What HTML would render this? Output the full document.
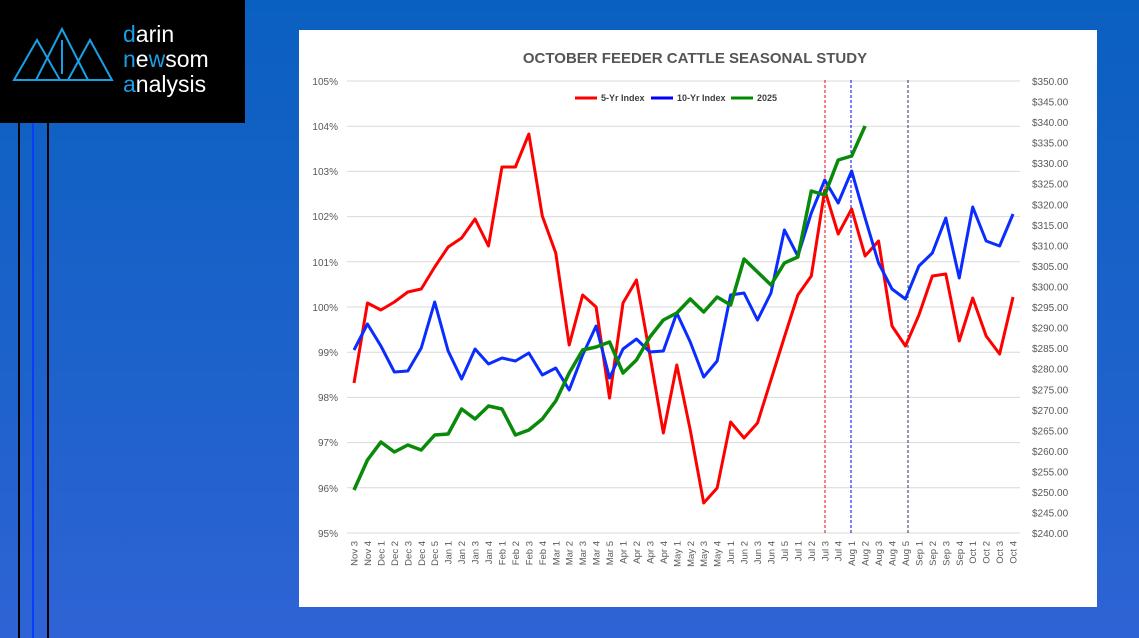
<!DOCTYPE html>
<html><head><style>
body{margin:0;width:1139px;height:638px;overflow:hidden;background:linear-gradient(180deg,#0a60c0 0%,#1e62cc 60%,#2f63d5 100%);font-family:"Liberation Sans",sans-serif;position:relative}
.logo{position:absolute;left:0;top:0;width:245px;height:123px;background:#000}
.vl{position:absolute;top:123px;bottom:0;width:2px;background:#000}
</style></head><body>
<div class="logo">
<svg width="245" height="123">
<g fill="none" stroke="#1a9ee6" stroke-width="2">
<polygon points="14,80 37,40 60,80"/><polygon points="36,80 62,29 88,80"/><polygon points="68,80 90,40 112,80"/>
<line x1="62" y1="40" x2="62" y2="74"/>
</g>
<g font-size="23" fill="#fff" font-family="Liberation Sans,sans-serif">
<text x="123" y="42"><tspan fill="#1a9ee6">d</tspan>arin</text>
<text x="123" y="67"><tspan fill="#1a9ee6">n</tspan>e<tspan fill="#1a9ee6">w</tspan>som</text>
<text x="123" y="92"><tspan fill="#1a9ee6">a</tspan>nalysis</text>
</g></svg></div>
<div class="vl" style="left:18px"></div><div class="vl" style="left:32px;background:#0a3cff"></div><div class="vl" style="left:47px"></div>
<svg style="position:absolute;left:0;top:0" width="1139" height="638">
<rect x="299" y="30" width="798" height="577" fill="#fff"/>
<text x="695" y="63" text-anchor="middle" font-size="15" font-weight="bold" fill="#555">OCTOBER FEEDER CATTLE SEASONAL STUDY</text>
<g stroke="#d9d9d9" stroke-width="1">
<line x1="347" x2="1020" y1="81" y2="81"/><line x1="347" x2="1020" y1="126.2" y2="126.2"/><line x1="347" x2="1020" y1="171.4" y2="171.4"/><line x1="347" x2="1020" y1="216.6" y2="216.6"/><line x1="347" x2="1020" y1="261.8" y2="261.8"/><line x1="347" x2="1020" y1="307" y2="307"/><line x1="347" x2="1020" y1="352.2" y2="352.2"/><line x1="347" x2="1020" y1="397.4" y2="397.4"/><line x1="347" x2="1020" y1="442.6" y2="442.6"/><line x1="347" x2="1020" y1="487.8" y2="487.8"/><line x1="347" x2="1020" y1="533" y2="533"/>
</g>
<g font-size="10" fill="#595959" text-anchor="end">
<text x="338" y="85">105%</text><text x="338" y="130">104%</text><text x="338" y="175">103%</text><text x="338" y="220">102%</text><text x="338" y="266">101%</text><text x="338" y="311">100%</text><text x="338" y="356">99%</text><text x="338" y="401">98%</text><text x="338" y="446">97%</text><text x="338" y="492">96%</text><text x="338" y="537">95%</text>
</g>
<g font-size="10" fill="#595959">
<text x="1032" y="85">$350.00</text><text x="1032" y="105.5">$345.00</text><text x="1032" y="126">$340.00</text><text x="1032" y="146.6">$335.00</text><text x="1032" y="167.2">$330.00</text><text x="1032" y="187.7">$325.00</text><text x="1032" y="208.3">$320.00</text><text x="1032" y="228.8">$315.00</text><text x="1032" y="249.4">$310.00</text><text x="1032" y="270">$305.00</text><text x="1032" y="290.5">$300.00</text><text x="1032" y="311">$295.00</text><text x="1032" y="331.6">$290.00</text><text x="1032" y="352.2">$285.00</text><text x="1032" y="372.7">$280.00</text><text x="1032" y="393.3">$275.00</text><text x="1032" y="413.8">$270.00</text><text x="1032" y="434.4">$265.00</text><text x="1032" y="455">$260.00</text><text x="1032" y="475.5">$255.00</text><text x="1032" y="496">$250.00</text><text x="1032" y="516.6">$245.00</text><text x="1032" y="537">$240.00</text>
</g>
<g stroke-width="1" stroke-dasharray="3,2">
<line x1="825" x2="825" y1="80" y2="533" stroke="#f00"/><line x1="851" x2="851" y1="80" y2="533" stroke="#00f"/><line x1="908" x2="908" y1="80" y2="533" stroke="#303060"/>
</g>
<g font-size="9" font-weight="bold" fill="#404040">
<line x1="575" x2="597" y1="98" y2="98" stroke="#f00" stroke-width="3"/><text x="601" y="101">5-Yr Index</text>
<line x1="651" x2="673" y1="98" y2="98" stroke="#00f" stroke-width="3"/><text x="677" y="101">10-Yr Index</text>
<line x1="731" x2="753" y1="98" y2="98" stroke="#080" stroke-width="3"/><text x="757" y="101">2025</text>
</g>
<g transform="translate(354,0) scale(13.45,1)" fill="none" stroke-width="3" stroke-linejoin="round">
<polyline vector-effect="non-scaling-stroke" stroke="#f00" points="0,383 1,303 2,310 3,302 4,292 5,289 6,267 7,247 8,238 9,219 10,246 11,167 12,167 13,134 14,216 15,253 16,345 17,295 18,307 19,398 20,303 21,280 22,355 23,433 24,365 25,430 26,503 27,488 28,422 29,438 30,423 31,380 32,337 33,295 34,276 35,190 36,234 37,209 38,256 39,241 40,326 41,346 42,315 43,276 44,274 45,341 46,298 47,336 48,354 49,297"/>
<polyline vector-effect="non-scaling-stroke" stroke="#0a2cff" points="0,350 1,324 2,346 3,372 4,371 5,348 6,302 7,351 8,379 9,349 10,364 11,358 12,361 13,353 14,375 15,368 16,390 17,355 18,326 19,378 20,349 21,339 22,352 23,351 24,313 25,342 26,377 27,361 28,295 29,293 30,320 31,293 32,230 33,256 34,213 35,180 36,203 37,171 38,218 39,263 40,289 41,299 42,266 43,253 44,218 45,278 46,207 47,241 48,246 49,214"/>
<polyline vector-effect="non-scaling-stroke" stroke="#0a8a0a" stroke-width="3.5" points="0,490 1,460 2,442 3,452 4,445 5,450 6,435 7,434 8,409 9,419 10,406 11,409 12,435 13,430 14,419 15,401 16,373 17,350 18,347 19,342 20,373 21,360 22,337 23,320 24,313 25,299 26,312 27,297 28,305 29,259 30,272 31,285 32,263 33,257 34,191 35,195 36,160 37,156 38,126"/>
</g>
<g font-size="9.5" fill="#595959" text-anchor="end" id="xl"></g>
</svg>
<script>
var L=["Nov 3","Nov 4","Dec 1","Dec 2","Dec 3","Dec 4","Dec 5","Jan 1","Jan 2","Jan 3","Jan 4","Feb 1","Feb 2","Feb 3","Feb 4","Mar 1","Mar 2","Mar 3","Mar 4","Mar 5","Apr 1","Apr 2","Apr 3","Apr 4","May 1","May 2","May 3","May 4","Jun 1","Jun 2","Jun 3","Jun 4","Jul 5","Jul 1","Jul 2","Jul 3","Jul 4","Aug 1","Aug 2","Aug 3","Aug 4","Aug 5","Sep 1","Sep 2","Sep 3","Sep 4","Oct 1","Oct 2","Oct 3","Oct 4"];
var g=document.getElementById("xl"),s="";
L.forEach(function(t,i){var x=(354+13.45*i+3.5).toFixed(2);s+='<text transform="translate('+x+',541) rotate(-90)">'+t+'</text>';});
g.innerHTML=s;
</script>
</body></html>
